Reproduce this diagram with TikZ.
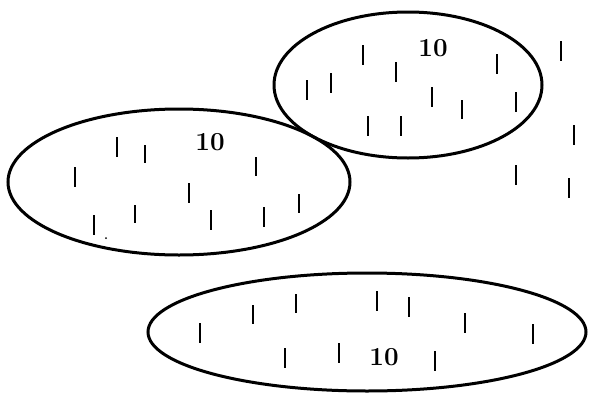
\documentclass[tikz,border=0pt]{standalone}
\begin{document}
\begin{tikzpicture}[x=1pt,y=-1pt,
  ring/.style={line width=3pt},
  stub/.style={line width=1.9pt},
  count/.style={font=\fontsize{26}{26}\selectfont\bfseries, inner sep=0pt}]
\useasboundingbox (0,0) rectangle (611,394);

% the three sets
\draw[ring] (179,182) ellipse [x radius=171, y radius=73];
\draw[ring] (408,85) ellipse [x radius=134, y radius=73];
\draw[ring] (367,332) ellipse [x radius=219, y radius=59];

% counts
\node[count] (cA) at (210,142) {10};
\node[count] (cB) at (433,48) {10};
\node[count] (cC) at (384,357) {10};

% short strokes: x / top / bottom
\foreach \x/\a/\b in {
  117/137/157, 145/145/163, 75/167/187, 256/157/176, 189/183/203,
  135/205/223, 94/215/235, 211/210/230, 264/207/227, 299/194/213,
  363/45/65, 396/62/82, 331/73/93, 307/80/100, 497/54/74,
  432/87/107, 462/100/119, 516/92/112, 368/116/136, 401/116/136,
  561/41/61, 574/125/145, 516/165/185, 569/178/198,
  200/323/343, 253/305/324, 296/294/313, 377/291/311, 409/297/317,
  465/313/333, 533/324/344, 285/348/368, 339/343/363, 435/351/371}
  \draw[stub] (\x,\a) -- (\x,\b);

% small speck
\fill (106,238) circle [radius=1pt];
\end{tikzpicture}
\end{document}
